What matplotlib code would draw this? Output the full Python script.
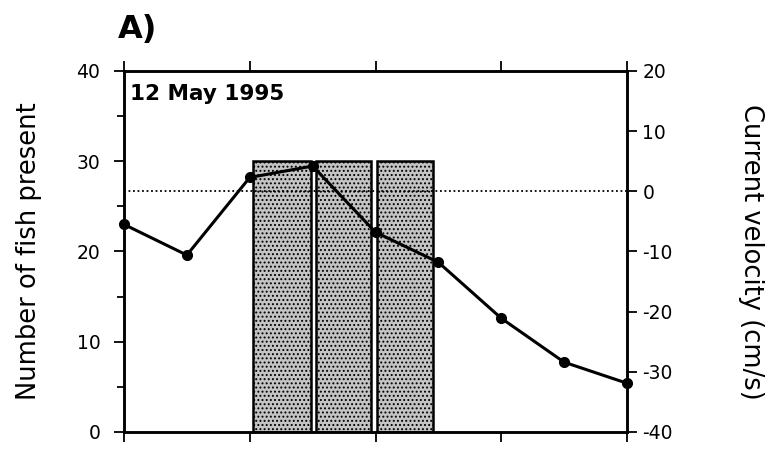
import numpy as np
import matplotlib
matplotlib.use('Agg')
import matplotlib.pyplot as plt

plt.rcParams['font.family'] = ['DejaVu Sans']
plt.rcParams['axes.unicode_minus'] = False
plt.rcParams['hatch.color'] = '#444444'
plt.rcParams['hatch.linewidth'] = 0.9

# sampling times (arbitrary units, ticks every 2)
time = [0, 1, 2, 3, 4, 5, 6, 7, 8]
# current velocity (cm/s), right axis
velocity = [-5.5, -10.6, 2.3, 4.2, -6.8, -11.8, -21.1, -28.4, -31.9]

# periods with fish present (left axis)
fish_start = [2.05, 3.05, 4.03]
fish_end = [2.97, 3.93, 4.91]
fish_count = [30, 30, 30]

fig = plt.figure(figsize=(7.72, 4.53), dpi=100)
ax = fig.add_axes([0.1606, 0.0464, 0.6516, 0.7969])

for s, e, n in zip(fish_start, fish_end, fish_count):
    ax.bar(s, n, width=e - s, align='edge', facecolor='#c4c4c4',
           edgecolor='black', linewidth=1.8, hatch='....')

ax.set_xlim(0, 8)
ax.set_ylim(0, 40)
ax.set_yticks([0, 10, 20, 30, 40])
ax.set_yticks([5, 15, 25, 35], minor=True)
ax.set_xticks([0, 2, 4, 6, 8])
ax.set_xticklabels([])
ax.tick_params(axis='y', which='major', direction='out', length=7, width=1.3,
               labelsize=13.5, pad=10)
ax.tick_params(axis='y', which='minor', direction='out', length=5, width=1.3)
ax.tick_params(axis='x', which='major', direction='out', length=7, width=1.3,
               top=True, bottom=True)
for sp in ax.spines.values():
    sp.set_linewidth(1.8)
ax.set_ylabel('Number of fish present', fontsize=18.5, labelpad=25)

ax2 = ax.twinx()
ax2.set_ylim(-40, 20)
ax2.set_yticks([20, 10, 0, -10, -20, -30, -40])
ax2.tick_params(axis='y', direction='out', length=7, width=1.3, labelsize=13.5, pad=4)
ax2.axhline(0, color='black', linestyle=(0, (1, 1.5)), linewidth=1.3)
ax2.plot(time, velocity, color='black', linewidth=2.2, marker='o', markersize=7,
         clip_on=False, zorder=5)
for sp in ax2.spines.values():
    sp.set_linewidth(1.8)
ax2.set_ylabel('Current velocity (cm/s)', fontsize=18.5, rotation=-90, labelpad=66)

ax.text(0.012, 0.965, '12 May 1995', transform=ax.transAxes, fontsize=15.5,
        fontweight='bold', va='top', ha='left')
fig.text(0.152, 0.9, 'A)', fontsize=23, fontweight='bold', ha='left', va='bottom')

fig.savefig('out.png', dpi=100)
